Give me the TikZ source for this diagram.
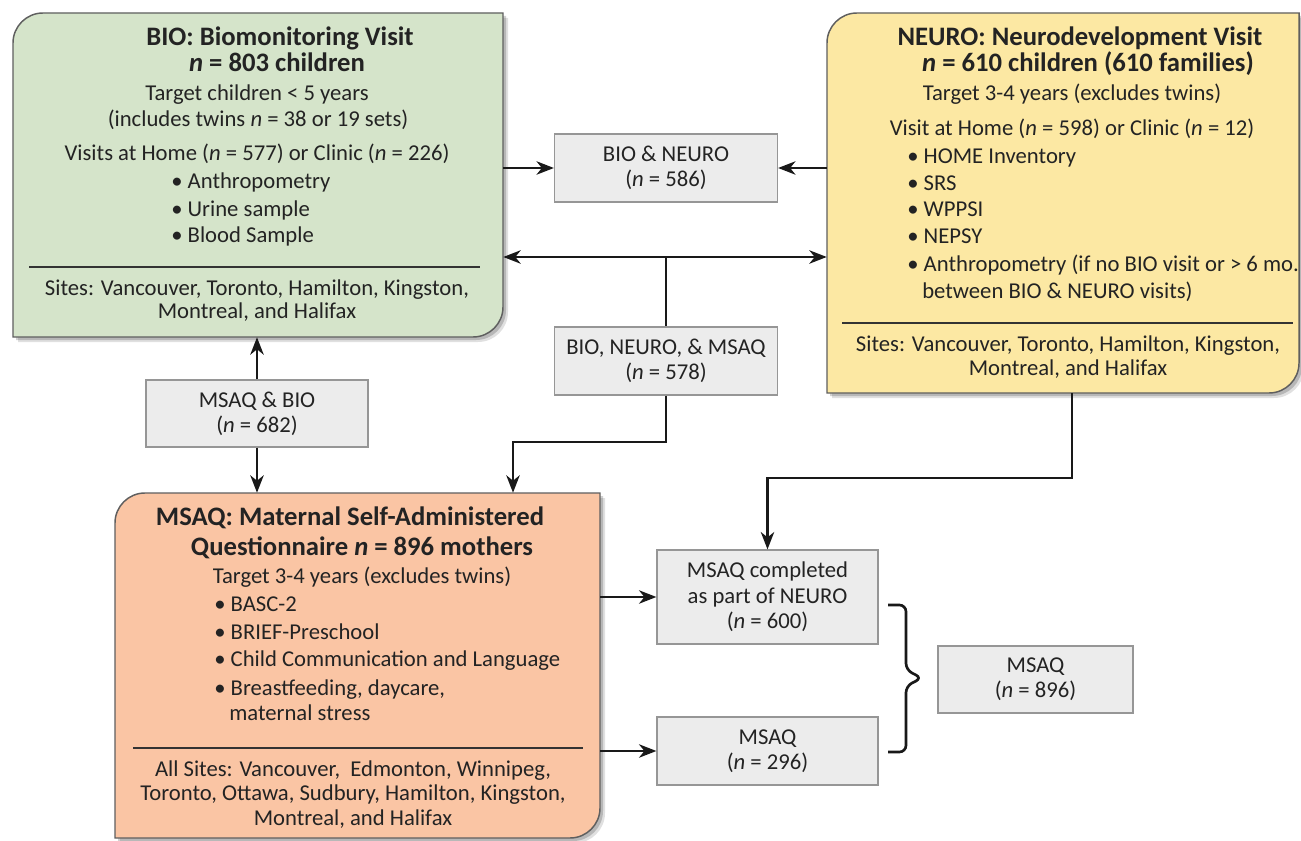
\documentclass[tikz,border=0pt]{standalone}
\usepackage{fontspec}
\setmainfont{Carlito}
\usetikzlibrary{arrows.meta}
\definecolor{biofill}{RGB}{213,228,202}
\definecolor{neurofill}{RGB}{252,232,163}
\definecolor{msaqfill}{RGB}{250,197,164}
\definecolor{grayfill}{RGB}{236,236,236}
\definecolor{grayborder}{RGB}{150,150,150}
\definecolor{bigborder}{RGB}{95,95,95}
\definecolor{txtc}{RGB}{35,35,35}
\newcommand\bigshape[5]{%
  \fill[black, opacity=0.12] (#1+5,#4-5) -- (#1+5,#2-35) arc(180:90:30) -- (#3+5,#2-5) -- (#3+5,#4+25) arc(0:-90:30) -- cycle;
  \fill[black, opacity=0.18] (#1+3,#4-3) -- (#1+3,#2-33) arc(180:90:30) -- (#3+3,#2-3) -- (#3+3,#4+27) arc(0:-90:30) -- cycle;
  \filldraw[fill=#5, draw=bigborder, line width=1.1pt] (#1,#4) -- (#1,#2-30) arc(180:90:30) -- (#3,#2) -- (#3,#4+30) arc(0:-90:30) -- cycle;}
\tikzset{
 txt/.style={inner sep=0, anchor=mid, text=txtc, font=\fontsize{17}{20}\selectfont},
 txtl/.style={txt, anchor=mid west},
 ttl/.style={txt, font=\bfseries\fontsize{20}{24}\selectfont},
 smallbox/.style={draw=grayborder, fill=grayfill, line width=0.9pt, align=center, text=txtc, font=\fontsize{17}{19}\selectfont, inner sep=0},
 area/.style={inner sep=0, draw=none},
 conn/.style={line width=2pt, draw=black!90},
 arr/.style={conn, -{Stealth[length=13pt,width=10pt,inset=4pt]}},
 dblarr/.style={conn, {Stealth[length=13pt,width=10pt,inset=4pt]}-{Stealth[length=13pt,width=10pt,inset=4pt]}},
 sepline/.style={line width=1pt, draw=black!80},
}
\begin{document}
\begin{tikzpicture}[x=0.75pt, y=0.75pt]
\useasboundingbox (0,0) rectangle (1301,840);
\fill[white] (0,0) rectangle (1301,840);

% big boxes
\bigshape{13}{827}{503}{503}{biofill}
\bigshape{827}{827}{1299}{447}{neurofill}
\bigshape{115}{347}{600}{2}{msaqfill}
\node[area, minimum width=367.5pt, minimum height=243pt] (bio) at (258,665) {};
\node[area, minimum width=354pt, minimum height=285pt] (neuro) at (1063,637) {};
\node[area, minimum width=363.75pt, minimum height=258.75pt] (msaq) at (357.5,174.5) {};

% BIO text
\node[ttl] (b1) at (280,798) {BIO: Biomonitoring Visit};
\node[ttl] (b2) at (277,772) {\textit{n} = 803 children};
\node[txt] (b3) at (257,743) {Target children < 5 years};
\node[txt] (b4) at (258,717) {(includes twins \textit{n} = 38 or 19 sets)};
\node[txt] (b5) at (257,683) {Visits at Home (\textit{n} = 577) or Clinic (\textit{n} = 226)};
\node[txtl] (b6) at (171,655) {• Anthropometry};
\node[txtl] (b7) at (171,627) {• Urine sample};
\node[txtl] (b8) at (171,601) {• Blood Sample};
\draw[sepline] (29,573) -- (480,573);
\node[txt] (b9) at (257,548) {Sites: Vancouver, Toronto, Hamilton, Kingston,};
\node[txt] (b10) at (257,525) {Montreal, and Halifax};

% NEURO text
\node[ttl] (n1) at (1080,798) {NEURO: Neurodevelopment Visit};
\node[ttl] (n2) at (1088,772) {\textit{n} = 610 children (610 families)};
\node[txt] (n3) at (1072,743) {Target 3-4 years (excludes twins)};
\node[txt] (n4) at (1072,708) {Visit at Home (\textit{n} = 598) or Clinic (\textit{n} = 12)};
\node[txtl] (n5) at (907,680) {• HOME Inventory};
\node[txtl] (n6) at (907,653) {• SRS};
\node[txtl] (n7) at (907,627) {• WPPSI};
\node[txtl] (n8) at (907,600) {• NEPSY};
\node[txtl] (n9) at (907,572) {• Anthropometry (if no BIO visit or > 6 mo.};
\node[txtl] (n10) at (922,545) {between BIO \& NEURO visits)};
\draw[sepline] (842,517) -- (1293,517);
\node[txt] (n11) at (1068,492) {Sites: Vancouver, Toronto, Hamilton, Kingston,};
\node[txt] (n12) at (1068,468) {Montreal, and Halifax};

% MSAQ text
\node[ttl] (m1) at (350,318) {MSAQ: Maternal Self-Administered};
\node[ttl] (m2) at (362,288) {Questionnaire \textit{n} = 896 mothers};
\node[txt] (m3) at (362,260) {Target 3-4 years (excludes twins)};
\node[txtl] (m4) at (214,232) {• BASC-2};
\node[txtl] (m5) at (214,204) {• BRIEF-Preschool};
\node[txtl] (m6) at (214,177) {• Child Communication and Language};
\node[txtl] (m7) at (214,148) {• Breastfeeding, daycare,};
\node[txtl] (m8) at (229,123) {maternal stress};
\draw[sepline] (133,92) -- (583,92);
\node[txt] (m9) at (353,67) {All Sites: Vancouver,\ \ Edmonton, Winnipeg,};
\node[txt] (m10) at (353,43) {Toronto, Ottawa, Sudbury, Hamilton, Kingston,};
\node[txt] (m11) at (353,18) {Montreal, and Halifax};

% small boxes
\node[smallbox, minimum width=167.25pt, minimum height=51pt] (bn) at (666,672) {BIO \& NEURO\\(\textit{n} = 586)};
\node[smallbox, minimum width=167.25pt, minimum height=51pt] (bnm) at (666,479) {BIO, NEURO, \& MSAQ\\(\textit{n} = 578)};
\node[smallbox, minimum width=166.5pt, minimum height=50.25pt] (mb) at (257,426.5) {MSAQ \& BIO\\(\textit{n} = 682)};
\node[smallbox, minimum width=165.75pt, minimum height=70.5pt] (mc) at (767.5,243) {MSAQ completed\\as part of NEURO\\(\textit{n} = 600)};
\node[smallbox, minimum width=165.75pt, minimum height=51pt] (m296) at (767.5,89) {MSAQ\\(\textit{n} = 296)};
\node[smallbox, minimum width=146.25pt, minimum height=50.25pt] (m896) at (1035.5,160.5) {MSAQ\\(\textit{n} = 896)};

% connectors
\coordinate (j) at (666,583);
\coordinate (c1) at (513,398);
\coordinate (c2) at (1072,362);
\draw[arr] (bio.east |- bn) -- (bn.west);
\draw[arr] (neuro.west |- bn) -- (bn.east);
\draw[dblarr] (bio.east |- j) -- (neuro.west |- j);
\draw[conn] (j) -- (bnm.north);
\draw[arr] (bnm.south) |- (c1) -- (c1 |- msaq.north);
\draw[arr] (mb.north) -- (mb.north |- bio.south);
\draw[arr] (mb.south) -- (mb.south |- msaq.north);
\draw[arr] (c2 |- neuro.south) -- (c2) -| (mc.north);
\draw[arr] (msaq.east |- mc) -- (mc.west);
\draw[arr] (msaq.east |- m296) -- (m296.west);

% brace
\draw[conn, rounded corners=5pt] (888,235) -- (906,235) -- (906,170) -- (922,162) -- (906,154) -- (906,88) -- (888,88);
\end{tikzpicture}
\end{document}
